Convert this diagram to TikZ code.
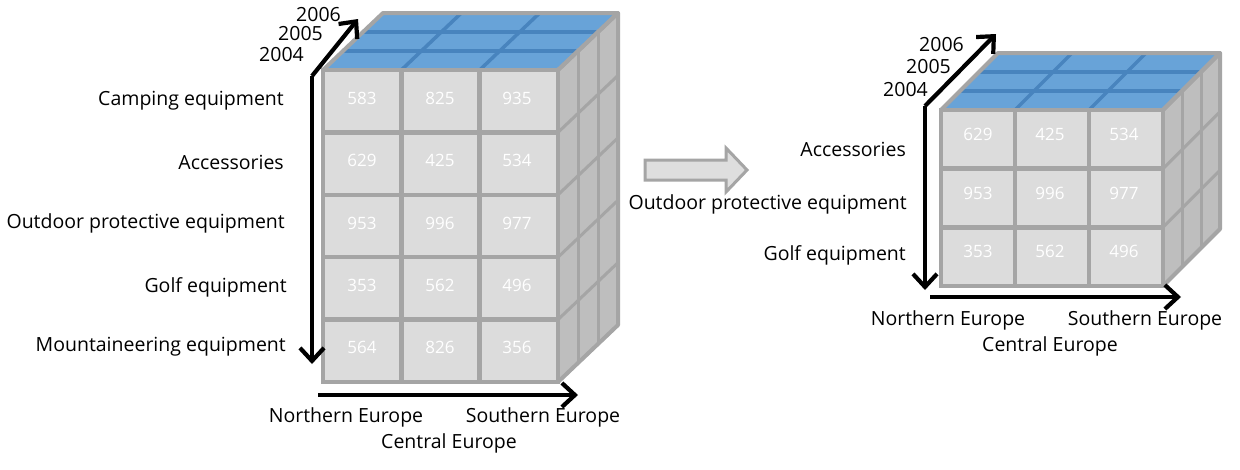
\documentclass[tikz,border=0pt]{standalone}
\usepackage{fontspec}
\setmainfont{Open Sans}
\usetikzlibrary{arrows.meta,calc}
\definecolor{topblue}{RGB}{104,163,216}
\definecolor{topline}{RGB}{72,132,190}
\definecolor{frame}{RGB}{165,165,165}
\definecolor{cellc}{RGB}{220,220,220}
\definecolor{sidec}{RGB}{190,190,190}
\definecolor{arrowfill}{RGB}{222,222,222}
% #1 FL, #2 FR, #3 FT, #4 FB, #5 dx, #6 dy, #7 rows
\newcommand{\mycube}[7]{%
  \pgfmathsetmacro\cw{(#2-#1)/3}%
  \pgfmathsetmacro\rh{(#4-#3)/#7}%
  % side face
  \fill[sidec] (#2,#3) -- ++(#5,#6) -- ({#2+#5},{#4+#6}) -- (#2,#4) -- cycle;
  \foreach \k in {1,2}{
    \draw[frame,line width=3pt] ({#2+\k*#5/3},{#3+\k*#6/3}) -- ({#2+\k*#5/3},{#4+\k*#6/3});
  }
  \foreach \r in {1,...,#7}{
    \draw[frame,line width=3pt] (#2,{#3+\r*\rh}) -- ({#2+#5},{#3+\r*\rh+#6});
  }
  % top face
  \fill[topblue] (#1,#3) -- (#2,#3) -- ({#2+#5},{#3+#6}) -- ({#1+#5},{#3+#6}) -- cycle;
  \foreach \k in {1,2}{
    \draw[topline,line width=3.5pt] ({#1+\k*#5/3},{#3+\k*#6/3}) -- ({#2+\k*#5/3},{#3+\k*#6/3});
    \draw[topline,line width=3.5pt] ({#1+\k*\cw},#3) -- ({#1+\k*\cw+#5},{#3+#6});
  }
  \draw[frame,line width=4pt,line join=round] (#1,#3) -- (#2,#3) -- ({#2+#5},{#3+#6}) -- ({#1+#5},{#3+#6}) -- cycle;
  \draw[frame,line width=4pt,line join=round] (#2,#3) -- ({#2+#5},{#3+#6}) -- ({#2+#5},{#4+#6}) -- (#2,#4);
  % front face
  \fill[cellc] (#1,#3) rectangle (#2,#4);
  \foreach \k in {1,2}{
    \draw[frame,line width=4.5pt] ({#1+\k*\cw},#3) -- ({#1+\k*\cw},#4);
  }
  \foreach \r in {1,...,#7}{
    \draw[frame,line width=4.5pt] (#1,{#3+\r*\rh}) -- (#2,{#3+\r*\rh});
  }
  \draw[frame,line width=4.5pt] (#1,#3) rectangle (#2,#4);
}
\begin{document}
\begin{tikzpicture}[x=1pt,y=-1pt,
  lbl/.style={font=\fontsize{19.5}{21}\selectfont, inner sep=0pt, text=black},
  num/.style={font=\fontsize{17}{19}\selectfont, text=white, inner sep=0pt},
  axisline/.style={draw=black, line width=4.2pt, line join=miter}]
\useasboundingbox[fill=white] (0,0) rectangle (1240,469);

% ---------- left cube ----------
\mycube{323}{558}{70}{382}{60}{-57}{5}
\foreach \a/\b/\c [count=\r] in {583/825/935,629/425/534,953/996/977,353/562/496,564/826/356}{
  \pgfmathsetmacro\yy{70+(\r-0.5)*62.4-3}
  \node[num] (L\r a) at (362,\yy) {\a};
  \node[num] (L\r b) at (440,\yy) {\b};
  \node[num] (L\r c) at (517,\yy) {\c};
}
\coordinate (lcorner) at (312,76);
\coordinate (ldown) at (312,364);
\coordinate (lup) at (358,19);
\coordinate (lhs) at (318,395);
\coordinate (lhe) at (578,395);
\draw[axisline,-{Straight Barb[length=13pt,width=24pt]}] (lcorner) -- (ldown);
\draw[axisline,-{Straight Barb[length=13pt,width=24pt]}] (lcorner) -- (lup);
\draw[axisline,-{Straight Barb[length=13pt,width=24pt]}] (lhs) -- (lhe);

\node[lbl,anchor=east] (ly6) at (341,15) {2006};
\node[lbl,anchor=east] (ly5) at (323,34) {2005};
\node[lbl,anchor=east] (ly4) at (304,55) {2004};

\node[lbl,anchor=east] (lr1) at (284,101) {Camping equipment};
\node[lbl,anchor=east] (lr2) at (284,162) {Accessories};
\node[lbl,anchor=east] (lr3) at (285,223) {Outdoor protective equipment};
\node[lbl,anchor=east] (lr4) at (287,287) {Golf equipment};
\node[lbl,anchor=east] (lr5) at (286,347) {Mountaineering equipment};

\node[lbl] (lc1) at (346,417) {Northern Europe};
\node[lbl] (lc3) at (543,417) {Southern Europe};
\node[lbl] (lc2) at (449,443) {Central Europe};

% ---------- middle arrow ----------
\draw[frame,fill=arrowfill,line width=3pt,line join=miter]
  (645,160) -- (726,160) -- (726,148) -- (747,170) -- (726,192) -- (726,180) -- (645,180) -- cycle;

% ---------- right cube ----------
\mycube{941}{1163}{110}{286}{57}{-57}{3}
\foreach \a/\b/\c [count=\r] in {629/425/534,953/996/977,353/562/496}{
  \pgfmathsetmacro\yy{110+(\r-0.5)*58.67-5}
  \node[num] (R\r a) at (978,\yy) {\a};
  \node[num] (R\r b) at (1050,\yy) {\b};
  \node[num] (R\r c) at (1124,\yy) {\c};
}
\coordinate (rcorner) at (925,106);
\coordinate (rdown) at (925,290);
\coordinate (rup) at (996,34);
\coordinate (rhs) at (930,297);
\coordinate (rhe) at (1181,297);
\draw[axisline,-{Straight Barb[length=13pt,width=24pt]}] (rcorner) -- (rdown);
\draw[axisline,-{Straight Barb[length=13pt,width=24pt]}] (rcorner) -- (rup);
\draw[axisline,-{Straight Barb[length=13pt,width=24pt]}] (rhs) -- (rhe);

\node[lbl,anchor=east] (ry6) at (964,45) {2006};
\node[lbl,anchor=east] (ry5) at (951,67) {2005};
\node[lbl,anchor=east] (ry4) at (928,90) {2004};

\node[lbl,anchor=east] (rr1) at (906,149) {Accessories};
\node[lbl,anchor=east] (rr2) at (907,204) {Outdoor protective equipment};
\node[lbl,anchor=east] (rr3) at (906,255) {Golf equipment};

\node[lbl] (rc1) at (948,320) {Northern Europe};
\node[lbl] (rc3) at (1145,320) {Southern Europe};
\node[lbl] (rc2) at (1050,346) {Central Europe};
\end{tikzpicture}
\end{document}
